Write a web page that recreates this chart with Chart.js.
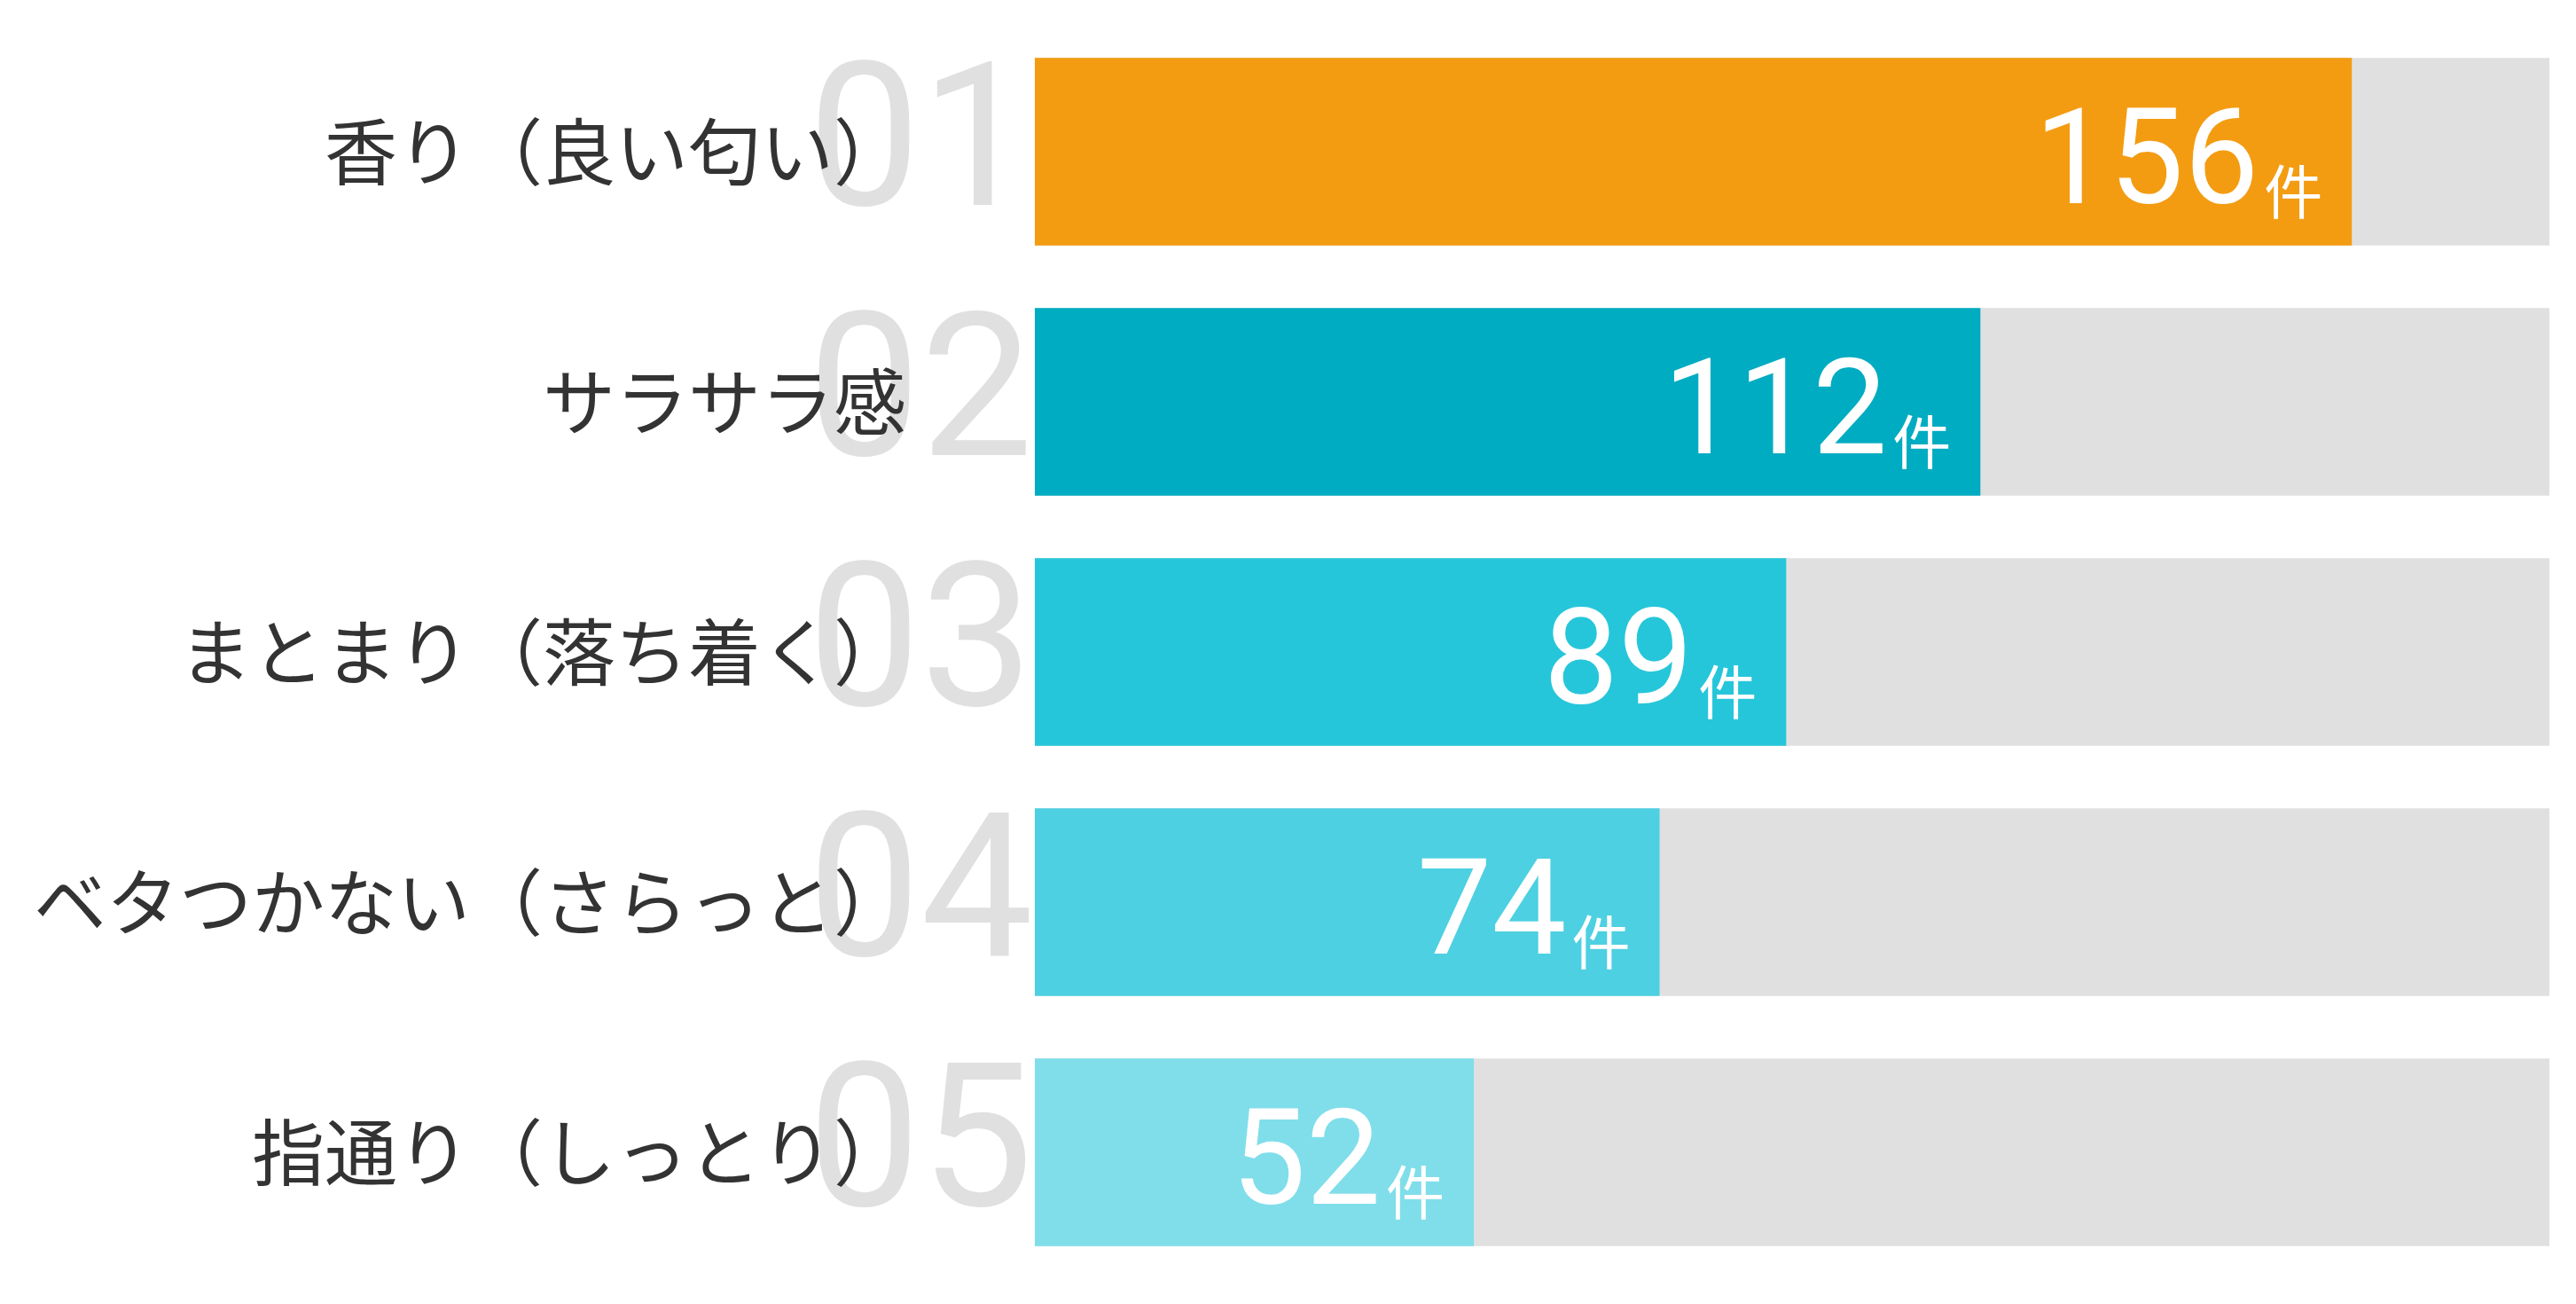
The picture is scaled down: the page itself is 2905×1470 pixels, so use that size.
<!DOCTYPE html>
<html lang="ja">
<head>
<meta charset="utf-8">
<script src="https://cdn.jsdelivr.net/npm/chart.js@4/dist/chart.umd.min.js"></script>
<style>
  html, body { margin: 0; padding: 0; background: #fff; }
  #wrap { width: 2905px; height: 1470px; }
</style>
</head>
<body>
<div id="wrap"><canvas id="ranking"></canvas></div>
<script>
const labels = [
  "香り（良い匂い）",
  "サラサラ感",
  "まとまり（落ち着く）",
  "ベタつかない（さらっと）",
  "指通り（しっとり）",
];
const counts = [156, 112, 89, 74, 52];
const ranks = ["01", "02", "03", "04", "05"];
const barColors = ["#f39c12", "#00acc1", "#26c6da", "#4dd0e1", "#80deea"];
const axisMax = 179.4;
const unit = "件";

// big grey rank numbers behind the category labels
const rankNumbers = {
  id: "rankNumbers",
  beforeDraw(chart) {
    const ctx = chart.ctx;
    const y = chart.scales.y;
    ctx.save();
    ctx.font = "226px Roboto";
    ctx.fillStyle = "#e0e0e0";
    ctx.textAlign = "right";
    ctx.textBaseline = "alphabetic";
    ranks.forEach((r, i) => {
      ctx.fillText(r, chart.chartArea.left - 2, y.getPixelForValue(i) + 60);
    });
    ctx.restore();
  },
};

// "156件" style labels inside the bars
const countLabels = {
  id: "countLabels",
  afterDatasetsDraw(chart) {
    const ctx = chart.ctx;
    const meta = chart.getDatasetMeta(0);
    ctx.save();
    ctx.fillStyle = "#ffffff";
    ctx.textAlign = "right";
    ctx.textBaseline = "alphabetic";
    meta.data.forEach((bar, i) => {
      const right = bar.x - 33;
      ctx.font = "66px 'Noto Sans CJK JP'";
      ctx.fillText(unit, right, bar.y + 70);
      const uw = ctx.measureText(unit).width;
      ctx.font = "150px Roboto";
      ctx.fillText(String(counts[i]), right - uw - 6, bar.y + 58);
    });
    ctx.restore();
  },
};

const data = {
  labels: labels,
  datasets: [
    {
      data: counts,
      backgroundColor: barColors,
      grouped: false,
      barPercentage: 1,
      categoryPercentage: 0.75,
    },
    {
      // grey track behind each bar
      data: labels.map(() => axisMax),
      backgroundColor: "#e0e0e0",
      grouped: false,
      barPercentage: 1,
      categoryPercentage: 0.75,
    },
  ],
};

const config = {
  type: "bar",
  data: data,
  options: {
    indexAxis: "y",
    responsive: true,
    maintainAspectRatio: false,
    animation: false,
    layout: {
      padding: { top: 30, bottom: 30, right: 30, left: 0 },
    },
    plugins: {
      legend: { display: false },
      tooltip: { enabled: false },
    },
    scales: {
      x: {
        display: false,
        min: 0,
        max: axisMax,
      },
      y: {
        grid: { display: false },
        border: { display: false },
        afterFit: function (scale) {
          scale.width = 1167;
          scale.paddingTop = 0;
          scale.paddingBottom = 0;
        },
        ticks: {
          padding: 137,
          color: "#333333",
          font: { family: "'Noto Sans CJK JP'", size: 82 },
        },
      },
    },
  },
  plugins: [rankNumbers, countLabels],
};

const rankingChart = new Chart(document.getElementById("ranking"), config);
</script>
</body>
</html>
